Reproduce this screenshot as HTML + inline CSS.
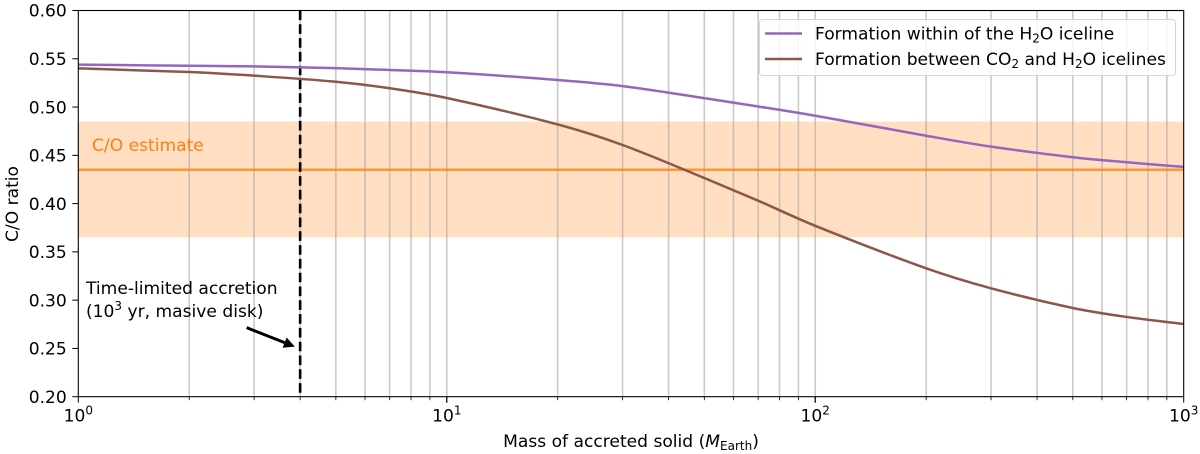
<!DOCTYPE html>
<html lang="en">
<head>
<meta charset="utf-8">
<title>C/O ratio vs mass of accreted solid</title>
<style>
html,body{margin:0;padding:0;background:#fff;}
body{width:1200px;height:454px;overflow:hidden;}
svg{display:block;font-family:"DejaVu Sans","Liberation Sans",sans-serif;fill:#000;}
</style>
</head>
<body>
<svg id="chart" width="1200" height="454" viewBox="0 0 1200 454" xmlns="http://www.w3.org/2000/svg">
  <rect x="0" y="0" width="1200" height="454" fill="#fff"/>
  <g id="band-layer"></g>
  <g id="grid-layer"></g>
  <g id="series-layer"></g>
  <g id="axis-layer"></g>
  <text x="92" y="151" font-size="17.1" style="fill:#ff7f0e">C/O estimate</text>
  <text x="86" y="294" font-size="17.1">Time-limited accretion</text>
  <text x="86" y="317" font-size="17.1">(10<tspan dy="-7" font-size="12">3</tspan><tspan dy="7"> yr, masive disk)</tspan></text>
  <g id="annotation-arrow"></g>
  <g>
    <rect x="759.5" y="19.5" width="416" height="56" rx="3" fill="#fff" fill-opacity="0.8" stroke="#ccc" stroke-opacity="0.8" stroke-width="1"/>
    <line x1="765" x2="802" y1="33.5" y2="33.5" stroke="#9467bd" stroke-width="2.5"/>
    <text x="815" y="39.5" font-size="17.1">Formation within of the H<tspan dy="3" font-size="12">2</tspan><tspan dy="-3">O iceline</tspan></text>
    <line x1="765" x2="802" y1="59" y2="59" stroke="#8c564b" stroke-width="2.5"/>
    <text x="815" y="65" font-size="17.1">Formation between CO<tspan dy="3" font-size="12">2</tspan><tspan dy="-3"> and H</tspan><tspan dy="3" font-size="12">2</tspan><tspan dy="-3">O icelines</tspan></text>
  </g>
  <text transform="translate(18,204) rotate(-90)" text-anchor="middle" font-size="17.1">C/O ratio</text>
  <text x="631" y="447" text-anchor="middle" font-size="17.1">Mass of accreted solid (<tspan font-style="italic">M</tspan><tspan dy="3" font-size="12">Earth</tspan><tspan dy="-3">)</tspan></text>
</svg>
<script>
var massPurple = [1,2,3,5,7,10,20,30,50,70,100,200,300,500,700,1000];
var ratioPurple = [0.5439,0.5428,0.5421,0.5403,0.5384,0.536,0.528,0.5217,0.5092,0.5006,0.491,0.4703,0.459,0.448,0.4428,0.438];
var massBrown = [1,2,3,5,7,10,20,30,50,70,100,200,300,500,700,1000];
var ratioBrown = [0.5401,0.5363,0.5325,0.5262,0.5195,0.5094,0.482,0.4607,0.4265,0.403,0.377,0.333,0.3123,0.2919,0.2826,0.2753];
var yTickValues = [0.20,0.25,0.30,0.35,0.40,0.45,0.50,0.55,0.60];
var xMajorExponents = [0,1,2,3];
var xMinorMultipliers = [2,3,4,5,6,7,8,9];
var estimateCentral = [0.435];
var estimateRange = [0.365,0.485];
var accretionLimitMass = [4];
var arrowTail = [2.864,0.2715];
var arrowTip = [3.87,0.2518];

var SVGNS = 'http://www.w3.org/2000/svg';
var plotLeft = 78.3, plotRight = 1183.7, plotTop = 10.5, plotBottom = 396.7;
var xMinLog = 0, xMaxLog = 3, yMin = 0.2, yMax = 0.6;
function xScale(v){ return plotLeft + (Math.log10(v) - xMinLog) / (xMaxLog - xMinLog) * (plotRight - plotLeft); }
function yScale(v){ return plotBottom - (v - yMin) / (yMax - yMin) * (plotBottom - plotTop); }
function make(tag, attrs, parent){
  var el = document.createElementNS(SVGNS, tag);
  for (var k in attrs) { el.setAttribute(k, attrs[k]); }
  parent.appendChild(el);
  return el;
}
function smoothPath(xs, ys){
  var pts = xs.map(function(x, i){ return [xScale(x), yScale(ys[i])]; });
  var d = 'M' + pts[0][0].toFixed(2) + ' ' + pts[0][1].toFixed(2);
  for (var i = 0; i < pts.length - 1; i++) {
    var h = pts[i + 1][0] - pts[i][0];
    var m1 = slopeAt(pts, i), m2 = slopeAt(pts, i + 1);
    d += 'C' + (pts[i][0] + h / 3).toFixed(2) + ' ' + (pts[i][1] + m1 * h / 3).toFixed(2) + ' ' + (pts[i + 1][0] - h / 3).toFixed(2) + ' ' + (pts[i + 1][1] - m2 * h / 3).toFixed(2) + ' ' + pts[i + 1][0].toFixed(2) + ' ' + pts[i + 1][1].toFixed(2);
  }
  return d;
}
function slopeAt(pts, i){
  var a = pts[Math.max(i - 1, 0)], b = pts[Math.min(i + 1, pts.length - 1)];
  return (b[1] - a[1]) / (b[0] - a[0]);
}

var bandLayer = document.getElementById('band-layer');
var gridLayer = document.getElementById('grid-layer');
var seriesLayer = document.getElementById('series-layer');
var axisLayer = document.getElementById('axis-layer');
var arrowLayer = document.getElementById('annotation-arrow');

var band = make('rect', {x: plotLeft, width: plotRight - plotLeft, y: yScale(estimateRange[1]), height: yScale(estimateRange[0]) - yScale(estimateRange[1]), fill: '#ff7f0e', 'fill-opacity': 0.26}, bandLayer);



xMajorExponents.forEach(function(exp){
  var base = Math.pow(10, exp);
  var mults = exp < 3 ? [1].concat(xMinorMultipliers) : [];
  mults.forEach(function(m){
    var v = base * m;
    if (v === 1) return;
    var px = xScale(v);
    var g = make('line', {x1: px, x2: px, y1: plotTop, y2: plotBottom, stroke: '#a9a9a9', 'stroke-opacity': 0.62, 'stroke-width': 1.6}, gridLayer);
    
    
    var t = make('line', {x1: px, x2: px, y1: plotBottom, y2: plotBottom + (m === 1 ? 6 : 3.5), stroke: '#000', 'stroke-width': m === 1 ? 1 : 0.8}, axisLayer);
    
    
  });
});

var estimateLine = make('line', {x1: plotLeft, x2: plotRight, y1: yScale(estimateCentral[0]), y2: yScale(estimateCentral[0]), stroke: '#ff7f0e', 'stroke-opacity': 0.75, 'stroke-width': 2.5}, seriesLayer);



var limitX = xScale(accretionLimitMass[0]);
var limitLine = make('line', {x1: limitX, x2: limitX, y1: plotTop, y2: plotBottom, stroke: '#000', 'stroke-width': 2.6, 'stroke-dasharray': '9.6 4.2'}, seriesLayer);



var purpleLine = make('path', {d: smoothPath(massPurple, ratioPurple), fill: 'none', stroke: '#9467bd', 'stroke-width': 2.5}, seriesLayer);



var brownLine = make('path', {d: smoothPath(massBrown, ratioBrown), fill: 'none', stroke: '#8c564b', 'stroke-width': 2.5}, seriesLayer);



var spine = make('rect', {x: plotLeft, y: plotTop, width: plotRight - plotLeft, height: plotBottom - plotTop, fill: 'none', stroke: '#000', 'stroke-width': 1.1}, axisLayer);



yTickValues.forEach(function(v){
  var py = yScale(v);
  var t = make('line', {x1: plotLeft - 6, x2: plotLeft, y1: py, y2: py, stroke: '#000', 'stroke-width': 1}, axisLayer);
  
  
  var lab = make('text', {x: plotLeft - 11.5, y: py + 6.2, 'text-anchor': 'end', 'font-size': 17.1}, axisLayer);
  
  
  lab.textContent = v.toFixed(2);
});

xMajorExponents.forEach(function(exp){
  var px = xScale(Math.pow(10, exp));
  var t = make('line', {x1: px, x2: px, y1: plotBottom, y2: plotBottom + 6, stroke: '#000', 'stroke-width': 1}, axisLayer);
  
  
  var lab = make('text', {x: px, y: 421.5, 'text-anchor': 'middle', 'font-size': 17.1}, axisLayer);
  
  
  lab.appendChild(document.createTextNode('10'));
  var sup = make('tspan', {dy: -7, 'font-size': 12}, lab);
  sup.textContent = String(exp);
});

var tx = xScale(arrowTail[0]), ty = yScale(arrowTail[1]), hx = xScale(arrowTip[0]), hy = yScale(arrowTip[1]);
var ang = Math.atan2(hy - ty, hx - tx);
var headLen = 11, headW = 5.5;
var bx = hx - headLen * Math.cos(ang), by = hy - headLen * Math.sin(ang);
var shaft = make('line', {x1: tx, y1: ty, x2: bx, y2: by, stroke: '#000', 'stroke-width': 3}, arrowLayer);


var head = make('polygon', {points: hx + ',' + hy + ' ' + (bx - headW * Math.sin(ang)) + ',' + (by + headW * Math.cos(ang)) + ' ' + (bx + headW * Math.sin(ang)) + ',' + (by - headW * Math.cos(ang)), fill: '#000'}, arrowLayer);


</script>
</body>
</html>
